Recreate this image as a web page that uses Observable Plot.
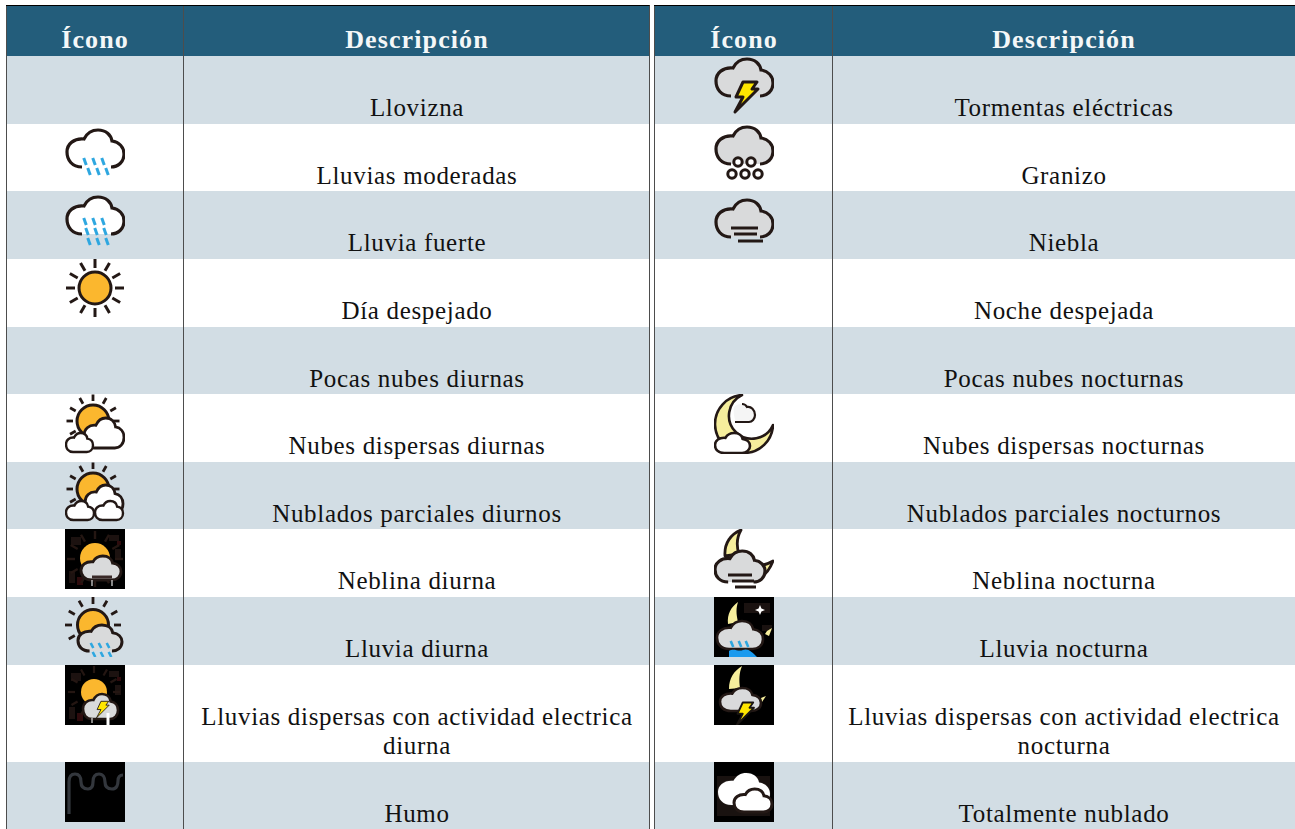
<!DOCTYPE html>
<html><head><meta charset="utf-8">
<script src="https://cdn.jsdelivr.net/npm/d3@7"></script>
<script src="https://cdn.jsdelivr.net/npm/@observablehq/plot@0.6"></script>
<style>
html,body{margin:0;padding:0;background:#fff}
svg{display:block}
.cell text{letter-spacing:.67px}
.head text{letter-spacing:1.1px}
</style></head><body><div id="chart"></div>
<script>
const headers = ["Ícono", "Descripción"];
const descLeft = [["Llovizna"],["Lluvias moderadas"],["Lluvia fuerte"],["Día despejado"],["Pocas nubes diurnas"],["Nubes dispersas diurnas"],["Nublados parciales diurnos"],["Neblina diurna"],["Lluvia diurna"],["Lluvias dispersas con actividad electrica","diurna"],["Humo"]];
const descRight = [["Tormentas eléctricas"],["Granizo"],["Niebla"],["Noche despejada"],["Pocas nubes nocturnas"],["Nubes dispersas nocturnas"],["Nublados parciales nocturnos"],["Neblina nocturna"],["Lluvia nocturna"],["Lluvias dispersas con actividad electrica","nocturna"],["Totalmente nublado"]];
const iconLeft = [null,"rainMod","rainHeavy","sun",null,"scatterDay","partlyDay","mistDay","rainDay","stormDay","smoke"];
const iconRight = ["storm","hail","fog",null,null,"scatterNight",null,"mistNight","rainNight","stormNight","overcast"];

// layout
const W = 1295, H = 829, tableTop = 5, headBottom = 56, rowH = 67.63, extraLine = 29.7, iconSize = 60;
const cols = [{x1:6,x2:183,x3:650},{x1:655,x2:832,x3:1295}];
const ink="#231815", grey="#d9dadb", sunC="#fbb72e", blue="#2ea7e0", moonC="#f6ee9c", bolt="#ffe600";

// icon drawing helpers
const CLOUD="M17 43C7 43 2 36 2 28C2 20 9 14 19 15C22 9 27 6 33 6C41 6 46 11 47 17C54 18 59 23 59 30C59 38 53 43 46 43";
function cloud(x,y,w,h,fill,sw=3.2,stroke=ink,closed=true){
  const sx=w/57,sy=h/37;
  const t=`translate(${x-2*sx} ${y-6*sy}) scale(${sx} ${sy})`;
  return `<g transform="${t}"><path d="${CLOUD}Z" fill="${fill}"/><path d="${CLOUD}${closed?"Z":""}" fill="none" stroke="${stroke}" stroke-width="${sw}" vector-effect="non-scaling-stroke" stroke-linecap="butt"/></g>`;
}
function rays(cx,cy,r1,r2,skip=[],sw=3,col=ink){
  let s="";
  for(let i=0;i<12;i++){ if(skip.includes(i))continue;
    const a=i*Math.PI/6;
    s+=`<line x1="${cx+r1*Math.sin(a)}" y1="${cy-r1*Math.cos(a)}" x2="${cx+r2*Math.sin(a)}" y2="${cy-r2*Math.cos(a)}" stroke="${col}" stroke-width="${sw}"/>`;
  }
  return s;
}
const sunDisc=(cx,cy,r,sw=3)=>`<circle cx="${cx}" cy="${cy}" r="${r}" fill="${sunC}" stroke="${ink}" stroke-width="${sw}"/>`;
const drops=(pts,len=7,sw=3,col=blue)=>pts.map(([x,y])=>`<line x1="${x-1.3}" y1="${y}" x2="${x+1.3}" y2="${y+len}" stroke="${col}" stroke-width="${sw}"/>`).join("");
const hline=(x1,x2,y,sw=3,col=ink)=>`<line x1="${x1}" x2="${x2}" y1="${y}" y2="${y}" stroke="${col}" stroke-width="${sw}"/>`;
const boltShape=(dx,dy,s=1,stroke=ink,sw=3)=>`<path transform="translate(${dx} ${dy}) scale(${s})" d="M29 26L43 26L38 33L44 33L21 56L29 41L22 41Z" fill="${bolt}" stroke="${stroke}" stroke-width="${sw}" stroke-linejoin="round"/>`;
const moonA=(dx=0,dy=0)=>`<path transform="translate(${dx} ${dy})" d="M27 1C17 5 10 14 11 27L25 25C22 16 23 8 27 1Z" fill="${moonC}" stroke="${ink}" stroke-width="2.8" stroke-linejoin="round"/>`;
const moonB=(dx=0,dy=0)=>`<path transform="translate(${dx} ${dy})" d="M59 32C56 40 52 45 47 48L44 36C49 37 54 35 59 32Z" fill="${moonC}" stroke="${ink}" stroke-width="2.8" stroke-linejoin="round"/>`;
const box=`<rect width="60" height="60" fill="#000"/>`;
const noise=`<path d="M6 8h10v8H6zM44 6h10v6H44zM4 42h6v12H4zM50 20h6v10h-6z" fill="#1c1210"/><path d="M12 48h6v8h-6zM52 12h4v4h-4z" fill="#2e0b0d"/>`;

const iconSvg = {
  rainMod: cloud(2,6,57,37,"#fff",3.2,ink,false)+drops([[20,34],[29,34],[38,34],[24,44],[33,44],[42,44]]),
  rainHeavy: cloud(2,6,57,37,"#fff",3.2,ink,false)+drops([[20,27],[29,27],[38,27],[22,37],[31,37],[40,37],[24,47],[33,47],[42,47]]),
  sun: rays(30,29,20,29)+sunDisc(30,29,16),
  storm: cloud(2,3,57,37,grey,3.2,ink,false)+boltShape(0,0),
  hail: cloud(2,3,57,37,grey,3.2,ink,false)+[[24,38],[37,38],[18,50],[31,50],[44,50]].map(([x,y])=>`<circle cx="${x}" cy="${y}" r="4.2" fill="#fff" stroke="${ink}" stroke-width="3"/>`).join(""),
  fog: cloud(2,9,57,37,grey,3.2,ink,false)+hline(17,44,37)+hline(20,43,43)+hline(24,49,50),
  scatterDay: rays(28,27,20,26.5,[4,5,6,7],2.8)+sunDisc(28,27,16)+cloud(19,24,40,30,"#fff",2.8)+cloud(1,39,27,19,"#fff",2.4),
  partlyDay: rays(28,27,20,26.5,[4,5,6,7],2.8)+sunDisc(28,27,16)+cloud(20,23,38,29,"#fff",2.8)+cloud(1,39,28,19,"#fff",2.4)+cloud(30,39,28,19,"#fff",2.4),
  mistDay: box+noise+rays(30,30,20,28,[],2.4,"#241612")+sunDisc(30,29,15,0)+cloud(16,27,40,24,grey,2.8)+hline(27,47,48,3,"#3a2a28")+`<path d="M27 51v6M47 51v6" stroke="#e0e0e0" stroke-width="1.2"/>`,
  rainDay: rays(28,28,21,28,[4,5,6,7],2.8)+sunDisc(28,28,15.5)+cloud(13,28,44,26,grey,3,ink,false)+drops([[27,46],[35,46],[43,46],[29,55],[37,55],[45,55]],5,2.6),
  stormDay: box+noise+rays(29,27,19,26,[],2.2,"#241612")+sunDisc(29,27,13,0)+cloud(18,29,35,25,grey,2.6)+boltShape(20,22,.55,ink,1.6)+`<path d="M43 48v12" stroke="#fff" stroke-width="3"/><path d="M27 53v5" stroke="#ddd" stroke-width="1.2"/>`,
  smoke: `<rect width="60" height="60" fill="#000"/><path d="M4 52V20C4 14 7 12 10 12C15 12 16 16 16 20C16 25 19 27 23 27C27 27 28 24 28 20C28 15 30 12 34 12C38 12 40 16 40 20C40 25 43 27 47 27C52 27 53 22 53 19C53 15 55 13 58 13" fill="none" stroke="#33373d" stroke-width="3.2"/>`,
  scatterNight: `<path d="M28 1A29 29 0 1 0 59 31A23 23 0 1 1 28 1Z" fill="${moonC}" stroke="${ink}" stroke-width="2.6" stroke-linejoin="round"/>`+`<path d="M20 13C24 9 30 9 32 13C37 11 41 15 41 21C41 25 38 28 35 28H22C20 23 19 18 20 13Z" fill="#f5f5f5"/><path d="M28 10C31 10 32 11 33 13C37 12 41 16 41 21C41 25 38 28 35 28H21" fill="none" stroke="${ink}" stroke-width="2.2"/>`+cloud(1,39,35,20,"#fff",2.6),
  mistNight: moonA()+moonB()+cloud(1,22,50,31,grey,3.2,ink,false)+hline(14,38,46)+hline(18,40,52)+hline(21,42,58),
  rainNight: box+`<path d="M30 6h26v10H30zM48 28h10v6H48z" fill="#1a1210"/>`+`<path d="M24 5C17 10 13 17 14 27L24 25C22 17 22 11 24 5Z" fill="${moonC}"/><path d="M53 34L58 31L55 39L51 37Z" fill="${moonC}"/>`+`<path d="M46 8L47.4 11.6L51 13L47.4 14.4L46 18L44.6 14.4L41 13L44.6 11.6Z" fill="#fff"/>`+cloud(3,24,46,28,grey,2.6)+drops([[18,44],[26,44],[33,44]],6,2.6)+`<path d="M15 60V54C20 51 24 55 29 53C34 51 38 55 43 60Z" fill="#1a9aee"/>`,
  stormNight: box+`<path d="M28 1C20 6 15 13 15 24L26 23C25 15 25 8 28 1Z" fill="${moonC}"/><path d="M52 31L47 33L48 37Z" fill="${moonC}"/>`+cloud(6,23,41,23,grey,2.6)+boltShape(7,18,.75,"#1a1512",2.4),
  overcast: box+`<path d="M3 14H56V54H3Z" fill="#191210"/>`+cloud(4,11,52,32,"#fff",0.1,"#fff")+cloud(20,27,38,23,"#fff",3)
};
const iconUri = k => k ? "data:image/svg+xml," + encodeURIComponent(`<svg xmlns="http://www.w3.org/2000/svg" width="60" height="60" viewBox="0 0 60 60">${iconSvg[k]}</svg>`) : null;

// tables built from the arrays
const rows = [];
[[descLeft,iconLeft],[descRight,iconRight]].forEach(([desc,icon],c)=>{
  let top = headBottom;
  desc.forEach((lines,i)=>{
    const h = rowH + (lines.length-1)*extraLine;
    rows.push({c,i,lines,icon:icon[i],top:Math.round(top),bottom:Math.round(top+h),...cols[c]});
    top += h;
  });
});
const textLines = rows.flatMap(r=>r.lines.map((t,k)=>({t,x:(r.x2+r.x3)/2,y:r.top+59+k*29})));
const headCells = cols.flatMap(c=>[{t:headers[0],x:(c.x1+c.x2)/2},{t:headers[1],x:(c.x2+c.x3)/2}]);
const font = "'Liberation Serif', serif";

const plot = Plot.plot({
  width:W,height:H,margin:0,
  x:{domain:[0,W],range:[0,W],axis:null},
  y:{domain:[0,H],range:[0,H],axis:null},
  style:{background:"#fff"},
  marks:[
    Plot.rect(rows.filter(r=>r.i%2===0),{x1:"x1",x2:"x3",y1:"top",y2:"bottom",fill:"#d2dde4"}),
    Plot.rect(cols,{x1:"x1",x2:"x3",y1:()=>tableTop,y2:()=>headBottom,fill:"#235d7b"}),
    Plot.ruleX([183,832],{y1:tableTop,y2:H,stroke:"#4d4d4d",strokeWidth:1}),
    Plot.ruleX([6,649,654],{y1:tableTop,y2:H,stroke:"#4d4d4d",strokeWidth:1}),
    Plot.ruleY([tableTop],{x1:6,x2:649.5,stroke:"#000",strokeWidth:1}),
    Plot.ruleY([tableTop],{x1:654,x2:W,stroke:"#000",strokeWidth:1}),
    Plot.image(rows.filter(r=>r.icon),{x:r=>(r.x1+r.x2)/2,y:r=>r.top+iconSize/2-0.5,src:r=>iconUri(r.icon),width:iconSize,height:iconSize}),
    Plot.text(headCells,{x:"x",y:()=>47,text:"t",lineAnchor:"bottom",fontFamily:font,fontWeight:"bold",fontSize:26,fill:"#f4f7f8",className:"head"}),
    Plot.text(textLines,{x:"x",y:"y",text:"t",lineAnchor:"bottom",fontFamily:font,fontSize:25,fill:"#111",className:"cell"})
  ]
});
document.getElementById("chart").append(plot);
</script></body></html>
